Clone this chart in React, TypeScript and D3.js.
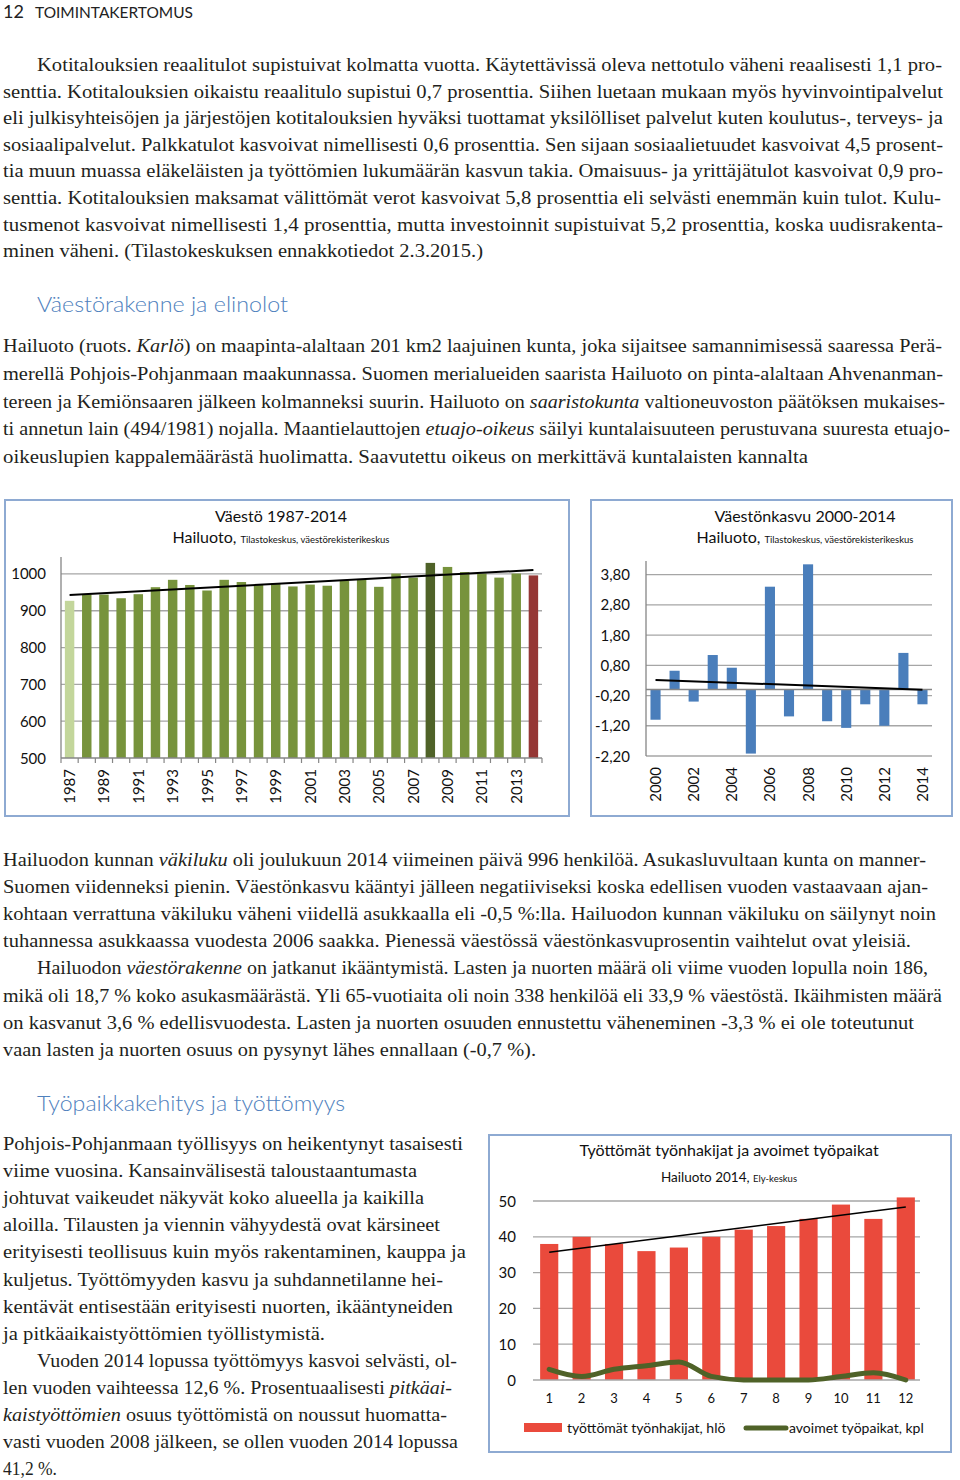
import React from 'react';
import * as d3 from 'd3';

// ---------- text content ----------
const HEADER_NUMBER = '12';
const HEADER_TITLE = 'TOIMINTAKERTOMUS';

const INTRO_LINES = [
  'Kotitalouksien reaalitulot supistuivat kolmatta vuotta. Käytettävissä oleva nettotulo väheni reaalisesti 1,1 pro-',
  'senttia. Kotitalouksien oikaistu reaalitulo supistui 0,7 prosenttia. Siihen luetaan mukaan myös hyvinvointipalvelut',
  'eli julkisyhteisöjen ja järjestöjen kotitalouksien hyväksi tuottamat yksilölliset palvelut kuten koulutus-, terveys- ja',
  'sosiaalipalvelut. Palkkatulot kasvoivat nimellisesti 0,6 prosenttia. Sen sijaan sosiaalietuudet kasvoivat 4,5 prosent-',
  'tia muun muassa eläkeläisten ja työttömien lukumäärän kasvun takia. Omaisuus- ja yrittäjätulot kasvoivat 0,9 pro-',
  'senttia. Kotitalouksien maksamat välittömät verot kasvoivat 5,8 prosenttia eli selvästi enemmän kuin tulot. Kulu-',
  'tusmenot kasvoivat nimellisesti 1,4 prosenttia, mutta investoinnit supistuivat 5,2 prosenttia, koska uudisrakenta-',
  'minen väheni. (Tilastokeskuksen ennakkotiedot 2.3.2015.)',
];

const HEADING_1 = 'Väestörakenne ja elinolot';

const AREA_LINES = [
  'Hailuoto (ruots. _Karlö_) on maapinta-alaltaan 201 km2 laajuinen kunta, joka sijaitsee samannimisessä saaressa Perä-',
  'merellä Pohjois-Pohjanmaan maakunnassa. Suomen merialueiden saarista Hailuoto on pinta-alaltaan Ahvenanman-',
  'tereen ja Kemiönsaaren jälkeen kolmanneksi suurin. Hailuoto on _saaristokunta_ valtioneuvoston päätöksen mukaises-',
  'ti annetun lain (494/1981) nojalla. Maantielauttojen _etuajo-oikeus_ säilyi kuntalaisuuteen perustuvana suuresta etuajo-',
  'oikeuslupien kappalemäärästä huolimatta. Saavutettu oikeus on merkittävä kuntalaisten kannalta',
];

const POP_TEXT_LINES = [
  'Hailuodon kunnan _väkiluku_ oli joulukuun 2014 viimeinen päivä 996 henkilöä. Asukasluvultaan kunta on manner-',
  'Suomen viidenneksi pienin. Väestönkasvu kääntyi jälleen negatiiviseksi koska edellisen vuoden vastaavaan ajan-',
  'kohtaan verrattuna väkiluku väheni viidellä asukkaalla eli -0,5 %:lla. Hailuodon kunnan väkiluku on säilynyt noin',
  'tuhannessa asukkaassa vuodesta 2006 saakka. Pienessä väestössä väestönkasvuprosentin vaihtelut ovat yleisiä.',
  'Hailuodon _väestörakenne_ on jatkanut ikääntymistä. Lasten ja nuorten määrä oli viime vuoden lopulla noin 186,',
  'mikä oli 18,7 % koko asukasmäärästä. Yli 65-vuotiaita oli noin 338 henkilöä eli 33,9 % väestöstä. Ikäihmisten määrä',
  'on kasvanut 3,6 % edellisvuodesta. Lasten ja nuorten osuuden ennustettu väheneminen -3,3 % ei ole toteutunut',
  'vaan lasten ja nuorten osuus on pysynyt lähes ennallaan (-0,7 %).',
];

const HEADING_2 = 'Työpaikkakehitys ja työttömyys';

const WORK_LINES = [
  'Pohjois-Pohjanmaan työllisyys on heikentynyt tasaisesti',
  'viime vuosina. Kansainvälisestä taloustaantumasta',
  'johtuvat vaikeudet näkyvät koko alueella ja kaikilla',
  'aloilla. Tilausten ja viennin vähyydestä ovat kärsineet',
  'erityisesti teollisuus kuin myös rakentaminen, kauppa ja',
  'kuljetus. Työttömyyden kasvu ja suhdannetilanne hei-',
  'kentävät entisestään erityisesti nuorten, ikääntyneiden',
  'ja pitkäaikaistyöttömien työllistymistä.',
  'Vuoden 2014 lopussa työttömyys kasvoi selvästi, ol-',
  'len vuoden vaihteessa 12,6 %.  Prosentuaalisesti _pitkäai-_',
  '_kaistyöttömien_ osuus työttömistä on noussut huomatta-',
  'vasti vuoden 2008 jälkeen, se ollen vuoden 2014 lopussa',
  '41,2 %.',
];

// ---------- chart data ----------
const POP_TITLE = 'Väestö 1987-2014';
const POP_SUB_MAIN = 'Hailuoto, ';
const POP_SUB_SRC = 'Tilastokeskus, väestörekisterikeskus';
const POP_YEARS = [
  1987, 1988, 1989, 1990, 1991, 1992, 1993, 1994, 1995, 1996, 1997, 1998, 1999, 2000,
  2001, 2002, 2003, 2004, 2005, 2006, 2007, 2008, 2009, 2010, 2011, 2012, 2013, 2014,
];
const POP_VALUES = [
  927, 944, 944, 934, 945, 964, 984, 970, 955, 984, 978, 971, 974, 966,
  971, 968, 982, 985, 965, 1001, 990, 1030, 1019, 1005, 1001, 990, 1001, 996,
];
const POP_TICKS = [500, 600, 700, 800, 900, 1000];

const GROWTH_TITLE = 'Väestönkasvu 2000-2014';
const GROWTH_YEARS = [2000, 2001, 2002, 2003, 2004, 2005, 2006, 2007, 2008, 2009, 2010, 2011, 2012, 2013, 2014];
const GROWTH_VALUES = [-1.0, 0.62, -0.4, 1.14, 0.72, -2.12, 3.4, -0.89, 4.14, -1.05, -1.27, -0.49, -1.2, 1.21, -0.49];
const GROWTH_TICKS = [3.8, 2.8, 1.8, 0.8, -0.2, -1.2, -2.2];

const JOBS_TITLE = 'Työttömät työnhakijat ja avoimet työpaikat';
const JOBS_SUB_MAIN = 'Hailuoto 2014, ';
const JOBS_SUB_SRC = 'Ely-keskus';
const MONTHS = [1, 2, 3, 4, 5, 6, 7, 8, 9, 10, 11, 12];
const UNEMPLOYED = [38, 40, 38, 36, 37, 40, 42, 43, 45, 49, 45, 51];
const VACANCIES = [3, 1, 3, 4, 5, 1, 0, 0, 0, 1, 2, 0];
const JOBS_TICKS = [0, 10, 20, 30, 40, 50];
const LEGEND_UNEMPLOYED = 'työttömät työnhakijat, hlö';
const LEGEND_VACANCIES = 'avoimet työpaikat, kpl';

// ---------- styles ----------
const SERIF = "'Liberation Serif', 'Times New Roman', serif";
const SANS = "Lato, 'Open Sans', sans-serif";
const TEXT_COLOR = '#231f20';
const HEAD_COLOR = '#4f81bd';
const BOX_COLOR = '#8eaad2';
const GRID = '#a6a6a6';

function linReg(xs: number[], ys: number[]) {
  const mx = d3.mean(xs) as number;
  const my = d3.mean(ys) as number;
  const sxy = d3.sum(xs, (x, i) => (x - mx) * (ys[i] - my));
  const sxx = d3.sum(xs, (x) => (x - mx) * (x - mx));
  const b = sxy / sxx;
  return (x: number) => my + b * (x - mx);
}

type ParaProps = {
  lines: string[];
  top: number;
  step: number;
  left: number;
  indentAt: number[];
  indent: number;
  rights: number[];
};

function Para({ lines, top, step, left, indentAt, indent, rights }: ParaProps) {
  return (
    <g fontFamily={SERIF} fontSize={19.5} fill={TEXT_COLOR}>
      {lines.map((ln, i) => {
        const x = indentAt.includes(i) ? indent : left;
        const parts = ln.split('_');
        return (
          <text key={i} x={x} y={top + i * step} textLength={rights[i] - x} lengthAdjust="spacingAndGlyphs">
            {parts.map((p, j) => (
              <tspan key={j} fontStyle={j % 2 ? 'italic' : 'normal'}>
                {p}
              </tspan>
            ))}
          </text>
        );
      })}
    </g>
  );
}

function PopChart() {
  const x = d3.scaleBand<number>().domain(POP_YEARS).range([61, 542]).paddingInner(0.45).paddingOuter(0.225);
  const y = d3.scaleLinear().domain([500, 1046]).range([758, 557]);
  const step = x.step();
  const cx = (yr: number) => (x(yr) as number) + x.bandwidth() / 2;
  const fit = linReg(POP_YEARS, POP_VALUES);
  const first = POP_YEARS[0];
  const last = POP_YEARS[POP_YEARS.length - 1];
  const color = (yr: number) =>
    yr === 1987 ? '#c3d69b' : yr === 2008 ? '#4f6228' : yr === 2014 ? '#953735' : '#77933c';
  return (
    <g>
      <rect x={5} y={500} width={564} height={316} fill="#fff" stroke={BOX_COLOR} strokeWidth={2} />
      <text x={281} y={522} textAnchor="middle" fontFamily={SANS} fontSize={16} fill="#111">
        {POP_TITLE}
      </text>
      <text x={281} y={543} textAnchor="middle" fontFamily={SANS} fill="#111">
        <tspan fontSize={16}>{POP_SUB_MAIN}</tspan>
        <tspan fontSize={9.5}>{POP_SUB_SRC}</tspan>
      </text>
      {POP_TICKS.filter((t) => t > 500).map((t) => (
        <line key={t} x1={61} x2={542} y1={y(t)} y2={y(t)} stroke={GRID} strokeWidth={1.3} />
      ))}
      {POP_YEARS.map((yr, i) => (
        <rect
          key={yr}
          x={x(yr)}
          y={y(POP_VALUES[i])}
          width={x.bandwidth()}
          height={y(500) - y(POP_VALUES[i])}
          fill={color(yr)}
        />
      ))}
      <line x1={61} x2={542} y1={y(500)} y2={y(500)} stroke="#868686" strokeWidth={1.3} />
      <line x1={61} x2={61} y1={y(1046)} y2={y(500)} stroke="#868686" strokeWidth={1.3} />
      {d3.range(POP_YEARS.length + 1).map((i) => (
        <line key={i} x1={61 + i * step} x2={61 + i * step} y1={y(500)} y2={y(500) + 5} stroke="#868686" strokeWidth={1.2} />
      ))}
      <line x1={cx(first)} x2={cx(last)} y1={y(fit(first))} y2={y(fit(last))} stroke="#000" strokeWidth={2} />
      {POP_TICKS.map((t) => (
        <text key={t} x={46} y={y(t) + 5.5} textAnchor="end" fontFamily={SANS} fontSize={15} fill="#111">
          {t}
        </text>
      ))}
      {POP_YEARS.filter((_, i) => i % 2 === 0).map((yr) => (
        <text
          key={yr}
          transform={`translate(${cx(yr) + 5.5},769) rotate(-90)`}
          textAnchor="end"
          fontFamily={SANS}
          fontSize={15}
          fill="#111"
        >
          {yr}
        </text>
      ))}
    </g>
  );
}

function GrowthChart() {
  const x = d3.scaleBand<number>().domain(GROWTH_YEARS).range([646, 932]).paddingInner(0.47).paddingOuter(0.235);
  const y = d3.scaleLinear().domain([-2.2, 4.25]).range([756, 561]);
  const cx = (yr: number) => (x(yr) as number) + x.bandwidth() / 2;
  const fit = linReg(GROWTH_YEARS, GROWTH_VALUES);
  const first = GROWTH_YEARS[0];
  const last = GROWTH_YEARS[GROWTH_YEARS.length - 1];
  const fmt = (v: number) => v.toFixed(2).replace('.', ',');
  return (
    <g>
      <rect x={591} y={500} width={361} height={316} fill="#fff" stroke={BOX_COLOR} strokeWidth={2} />
      <text x={805} y={522} textAnchor="middle" fontFamily={SANS} fontSize={16} fill="#111">
        {GROWTH_TITLE}
      </text>
      <text x={805} y={543} textAnchor="middle" fontFamily={SANS} fill="#111">
        <tspan fontSize={16}>{POP_SUB_MAIN}</tspan>
        <tspan fontSize={9.5}>{POP_SUB_SRC}</tspan>
      </text>
      {GROWTH_TICKS.map((t) => (
        <line key={t} x1={646} x2={932} y1={y(t)} y2={y(t)} stroke={GRID} strokeWidth={1.3} />
      ))}
      {GROWTH_YEARS.map((yr, i) => {
        const v = GROWTH_VALUES[i];
        return (
          <rect
            key={yr}
            x={x(yr)}
            y={Math.min(y(0), y(v))}
            width={x.bandwidth()}
            height={Math.abs(y(v) - y(0))}
            fill="#4a7ebb"
          />
        );
      })}
      <line x1={646} x2={932} y1={y(0)} y2={y(0)} stroke="#868686" strokeWidth={1.3} />
      <line x1={646} x2={646} y1={y(4.25)} y2={y(-2.2)} stroke="#868686" strokeWidth={1.3} />
      <line x1={cx(first)} x2={cx(last)} y1={y(fit(first))} y2={y(fit(last))} stroke="#000" strokeWidth={2} />
      {GROWTH_TICKS.map((t) => (
        <text key={t} x={630} y={y(t) + 5.5} textAnchor="end" fontFamily={SANS} fontSize={15} fill="#111">
          {fmt(t)}
        </text>
      ))}
      {GROWTH_YEARS.filter((_, i) => i % 2 === 0).map((yr) => (
        <text
          key={yr}
          transform={`translate(${cx(yr) + 5.5},767) rotate(-90)`}
          textAnchor="end"
          fontFamily={SANS}
          fontSize={15}
          fill="#111"
        >
          {yr}
        </text>
      ))}
    </g>
  );
}

function JobsChart() {
  const x = d3.scaleBand<number>().domain(MONTHS).range([533, 922]).paddingInner(0.44).paddingOuter(0.22);
  const y = d3.scaleLinear().domain([0, 50]).range([1380, 1201]);
  const cx = (m: number) => (x(m) as number) + x.bandwidth() / 2;
  const fit = linReg(MONTHS, UNEMPLOYED);
  const first = MONTHS[0];
  const last = MONTHS[MONTHS.length - 1];
  const line = d3
    .line<number>()
    .x((m) => cx(m))
    .y((_, i) => y(VACANCIES[i]))
    .curve(d3.curveMonotoneX);
  return (
    <g>
      <rect x={489} y={1135} width={462} height={317} fill="#fff" stroke={BOX_COLOR} strokeWidth={2} />
      <text x={729} y={1156} textAnchor="middle" fontFamily={SANS} fontSize={16} fill="#111">
        {JOBS_TITLE}
      </text>
      <text x={729} y={1182} textAnchor="middle" fontFamily={SANS} fill="#111">
        <tspan fontSize={13.5}>{JOBS_SUB_MAIN}</tspan>
        <tspan fontSize={9.5}>{JOBS_SUB_SRC}</tspan>
      </text>
      {JOBS_TICKS.filter((t) => t > 0).map((t) => (
        <line key={t} x1={533} x2={920} y1={y(t)} y2={y(t)} stroke={GRID} strokeWidth={1.3} />
      ))}
      {MONTHS.map((m, i) => (
        <rect
          key={m}
          x={x(m)}
          y={y(UNEMPLOYED[i])}
          width={x.bandwidth()}
          height={y(0) - y(UNEMPLOYED[i])}
          fill="#ea4a3c"
        />
      ))}
      <line x1={533} x2={920} y1={y(0)} y2={y(0)} stroke={GRID} strokeWidth={1.3} />
      <path d={line(MONTHS) || ''} fill="none" stroke="#4f6228" strokeWidth={5} strokeLinecap="round" strokeLinejoin="round" />
      <line x1={cx(first)} x2={cx(last)} y1={y(fit(first))} y2={y(fit(last))} stroke="#000" strokeWidth={1.5} />
      {JOBS_TICKS.map((t) => (
        <text key={t} x={516} y={y(t) + 5.5} textAnchor="end" fontFamily={SANS} fontSize={15} fill="#111">
          {t}
        </text>
      ))}
      {MONTHS.map((m) => (
        <text key={m} x={cx(m)} y={1403} textAnchor="middle" fontFamily={SANS} fontSize={13} fill="#111">
          {m}
        </text>
      ))}
      <rect x={524} y={1423} width={38} height={9} fill="#ea4a3c" />
      <text x={567} y={1433} fontFamily={SANS} fontSize={14} fill="#111">
        {LEGEND_UNEMPLOYED}
      </text>
      <line x1={746} x2={786} y1={1428} y2={1428} stroke="#4f6228" strokeWidth={5} strokeLinecap="round" />
      <text x={789} y={1433} fontFamily={SANS} fontSize={14} fill="#111">
        {LEGEND_VACANCIES}
      </text>
    </g>
  );
}

export default function App() {
  return (
    <svg
      width={960}
      height={1480}
      viewBox="0 0 960 1480"
      style={{ position: 'absolute', left: 0, top: 0, background: '#fff' }}
    >
      <rect x={0} y={0} width={960} height={1480} fill="#fff" />
      <text x={3} y={18} fontFamily={SANS} fontSize={18} fill="#222">
        {HEADER_NUMBER}
      </text>
      <text x={35} y={18} fontFamily={SANS} fontSize={14.5} fill="#222" textLength={158} lengthAdjust="spacingAndGlyphs">
        {HEADER_TITLE}
      </text>

      <Para
        lines={INTRO_LINES}
        top={71}
        step={26.6}
        left={3}
        indentAt={[0]}
        indent={37}
        rights={[942, 943, 943, 943, 943, 941, 943, 483]}
      />

      <text x={37} y={312} fontFamily={SANS} fontSize={22} fill={HEAD_COLOR} fontWeight={300} textLength={251} lengthAdjust="spacingAndGlyphs">
        {HEADING_1}
      </text>

      <Para lines={AREA_LINES} top={352} step={27.8} left={3} indentAt={[]} indent={3} rights={[942, 943, 945, 950, 808]} />

      <PopChart />
      <GrowthChart />

      <Para
        lines={POP_TEXT_LINES}
        top={866}
        step={27.1}
        left={3}
        indentAt={[4]}
        indent={37}
        rights={[926, 928, 936, 911, 928, 942, 914, 536]}
      />

      <text x={37} y={1111} fontFamily={SANS} fontSize={22} fill={HEAD_COLOR} fontWeight={300} textLength={308} lengthAdjust="spacingAndGlyphs">
        {HEADING_2}
      </text>

      <Para
        lines={WORK_LINES}
        top={1150}
        step={27.1}
        left={3}
        indentAt={[8]}
        indent={37}
        rights={[463, 417, 424, 440, 466, 443, 453, 325, 457, 452, 447, 458, 57]}
      />

      <JobsChart />
    </svg>
  );
}
